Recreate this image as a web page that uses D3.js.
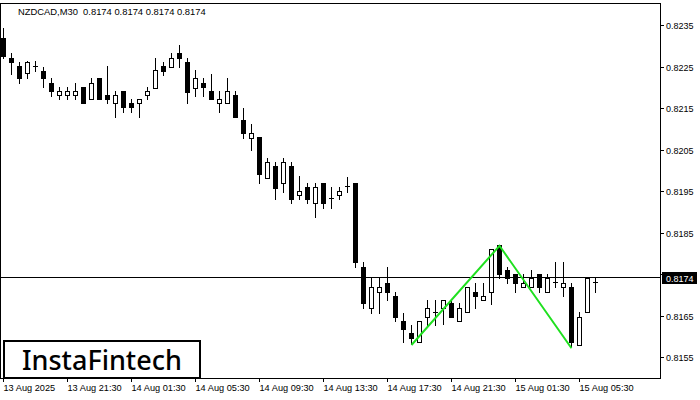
<!DOCTYPE html>
<html><head><meta charset="utf-8">
<script src="https://cdn.jsdelivr.net/npm/d3@7"></script>
<style>
html,body{margin:0;padding:0;background:#fff;}
svg{display:block;}
</style></head>
<body>
<svg id="chart" width="700" height="400"></svg>
<script>
const symbolTitle = "NZDCAD,M30  0.8174 0.8174 0.8174 0.8174";
const openP  = [0.82319,0.82270,0.82251,0.82234,0.82249,0.82239,0.82210,0.82181,0.82181,0.82181,
  0.82201,0.82172,0.82222,0.82181,0.82162,0.82191,0.82162,0.82162,0.82181,0.82198,
  0.82251,0.82249,0.82283,0.82261,0.82198,0.82210,0.82191,0.82162,0.82162,0.82181,
  0.82121,0.82078,0.82080,0.81981,0.82010,0.81969,0.82010,0.81940,0.81960,0.81921,
  0.81969,0.81931,0.81940,0.81960,0.81969,0.81767,0.81668,0.81707,0.81728,0.81697,
  0.81637,0.81608,0.81586,0.81646,0.81656,0.81668,0.81680,0.81637,0.81658,0.81707,
  0.81687,0.81707,0.81820,0.81760,0.81750,0.81719,0.81719,0.81750,0.81707,0.81728,
  0.81719,0.81719,0.81579,0.81658,0.81728,0.8174];
const highP  = [0.82343,0.82283,0.82261,0.82263,0.82263,0.82249,0.82222,0.82201,0.82201,0.82210,
  0.82201,0.82222,0.82222,0.82251,0.82191,0.82191,0.82172,0.82172,0.82201,0.82270,
  0.82261,0.82283,0.82302,0.82270,0.82242,0.82222,0.82232,0.82191,0.82222,0.82191,
  0.82150,0.82111,0.82080,0.82030,0.82020,0.82030,0.82020,0.81986,0.81969,0.81969,
  0.81969,0.81960,0.81960,0.81984,0.81969,0.81779,0.81740,0.81740,0.81767,0.81707,
  0.81656,0.81627,0.81637,0.81687,0.81687,0.81687,0.81687,0.81680,0.81719,0.81728,
  0.81728,0.81810,0.81820,0.81767,0.81750,0.81750,0.81760,0.81750,0.81750,0.81779,
  0.81779,0.81728,0.81658,0.81740,0.81740,0.8174];
const lowP   = [0.82270,0.82232,0.82210,0.82222,0.82239,0.82201,0.82179,0.82172,0.82172,0.82172,
  0.82162,0.82172,0.82172,0.82162,0.82128,0.82140,0.82140,0.82128,0.82172,0.82198,
  0.82230,0.82249,0.82249,0.82162,0.82179,0.82179,0.82172,0.82140,0.82162,0.82128,
  0.82078,0.82049,0.81969,0.81981,0.81931,0.81948,0.81921,0.81931,0.81921,0.81887,
  0.81909,0.81909,0.81931,0.81948,0.81767,0.81668,0.81656,0.81656,0.81687,0.81637,
  0.81586,0.81582,0.81586,0.81627,0.81627,0.81630,0.81646,0.81637,0.81658,0.81668,
  0.81687,0.81678,0.81740,0.81728,0.81707,0.81719,0.81719,0.81707,0.81707,0.81719,
  0.81697,0.81576,0.81579,0.81658,0.81707,0.8174];
const closeP = [0.82275,0.82261,0.82222,0.82261,0.82249,0.82222,0.82191,0.82191,0.82191,0.82191,
  0.82162,0.82210,0.82172,0.82172,0.82181,0.82152,0.82152,0.82172,0.82191,0.82242,
  0.82239,0.82270,0.82270,0.82189,0.82222,0.82201,0.82172,0.82172,0.82191,0.82128,
  0.82090,0.82090,0.81991,0.82020,0.81957,0.82020,0.81931,0.81950,0.81931,0.81960,
  0.81921,0.81931,0.81950,0.81960,0.81779,0.81680,0.81719,0.81719,0.81707,0.81646,
  0.81617,0.81596,0.81637,0.81668,0.81656,0.81687,0.81646,0.81668,0.81719,0.81697,
  0.81697,0.81810,0.81750,0.81740,0.81728,0.81728,0.81740,0.81719,0.81740,0.81728,
  0.81728,0.81586,0.81646,0.81740,0.81728,0.8174];
const xTickIndex  = [0,8,16,24,32,40,48,56,64,72];
const xTickLabels = ["13 Aug 2025","13 Aug 21:30","14 Aug 01:30","14 Aug 05:30","14 Aug 09:30",
  "14 Aug 13:30","14 Aug 17:30","14 Aug 21:30","15 Aug 01:30","15 Aug 05:30"];
const yTicks = [0.8155,0.8165,0.8175,0.8185,0.8195,0.8205,0.8215,0.8225,0.8235];
const currentPrice = 0.8174;
const patternIndex = [51,62,71];
const patternPrice = [0.81579,0.81818,0.81571];
const brand = "InstaFintech";

const svg = d3.select("#chart");
const plotL = 0, plotR = 660, plotT = 3, plotB = 378;
const x = d3.scaleLinear().domain([0, 74]).range([3, 595]);
const y = d3.scaleLinear().domain([0.8155, 0.8235]).range([357, 25]);
const font = "'Liberation Sans', Arial, sans-serif";

// frame
svg.append("rect").attr("x", plotL + 0.5).attr("y", plotT + 0.5)
  .attr("width", plotR - plotL).attr("height", plotB - plotT)
  .attr("fill", "none").attr("stroke", "#000").attr("stroke-width", 1);

// candles
const data = openP.map((o, i) => ({i, o, h: highP[i], l: lowP[i], c: closeP[i]}));
const g = svg.append("g");
data.forEach(d => {
  const cx = Math.round(x(d.i));
  const wx = cx + 0.5;
  const yo = Math.round(y(d.o)), yc = Math.round(y(d.c));
  if (d.h !== d.l) {
    g.append("line").attr("x1", wx).attr("x2", wx)
      .attr("y1", Math.round(y(d.h))).attr("y2", Math.round(y(d.l)) + 1)
      .attr("stroke", "#000").attr("stroke-width", 1);
  }
  if (Math.abs(yo - yc) < 1) {
    g.append("line").attr("x1", cx - 2).attr("x2", cx + 3)
      .attr("y1", yo - 0.5).attr("y2", yo - 0.5).attr("stroke", "#000");
  } else if (d.c > d.o) {
    g.append("rect").attr("x", cx - 1.5).attr("y", yc + 0.5)
      .attr("width", 4).attr("height", yo - yc)
      .attr("fill", "#fff").attr("stroke", "#000").attr("stroke-width", 1);
  } else {
    g.append("rect").attr("x", cx - 2).attr("y", yo)
      .attr("width", 5).attr("height", yc - yo + 1)
      .attr("fill", "#000");
  }
});

// current price line
const yp = Math.round(y(currentPrice)) - 0.5;
svg.append("line").attr("x1", 0).attr("x2", plotR).attr("y1", yp).attr("y2", yp)
  .attr("stroke", "#000").attr("stroke-width", 1);

// pattern line
const line = d3.line().x(d => x(d[0]) + 0.5).y(d => y(d[1]));
svg.append("path").datum(patternIndex.map((v, k) => [v, patternPrice[k]]))
  .attr("d", line).attr("fill", "none").attr("stroke", "#1fe01f").attr("stroke-width", 2);

// y axis
const ya = svg.append("g");
yTicks.forEach(t => {
  const yy = Math.round(y(t)) + 0.5;
  ya.append("line").attr("x1", plotR).attr("x2", plotR + 4).attr("y1", yy).attr("y2", yy).attr("stroke", "#000");
  ya.append("text").attr("x", 666).attr("y", yy + 3.5).text(t.toFixed(4))
    .attr("font-family", font).attr("font-size", 9).attr("fill", "#000");
});
// current price box
svg.append("rect").attr("x", 662).attr("y", 272).attr("width", 35).attr("height", 12).attr("fill", "#000");
svg.append("text").attr("x", 666).attr("y", 281.5).text(currentPrice.toFixed(4))
  .attr("font-family", font).attr("font-size", 9).attr("fill", "#fff");

// x axis
xTickIndex.forEach((t, k) => {
  const xx = Math.round(x(t)) + 0.5;
  svg.append("line").attr("x1", xx).attr("x2", xx).attr("y1", plotB).attr("y2", plotB + 4).attr("stroke", "#000");
  svg.append("text").attr("x", xx).attr("y", 391).text(xTickLabels[k])
    .attr("font-family", font).attr("font-size", 9.2).attr("fill", "#000");
});

// title
svg.append("text").attr("x", 18).attr("y", 15).text(symbolTitle)
  .attr("font-family", font).attr("font-size", 9.4).attr("fill", "#000")
  .attr("xml:space", "preserve").style("white-space", "pre");

// watermark
svg.append("rect").attr("x", 4).attr("y", 341).attr("width", 196).attr("height", 37)
  .attr("fill", "#fff").attr("stroke", "#000").attr("stroke-width", 2);
svg.append("text").attr("x", 22).attr("y", 370).text(brand)
  .attr("font-family", "'Noto Sans', sans-serif").attr("font-size", 27).attr("font-weight", 500).attr("fill", "#000");
</script>
</body></html>
